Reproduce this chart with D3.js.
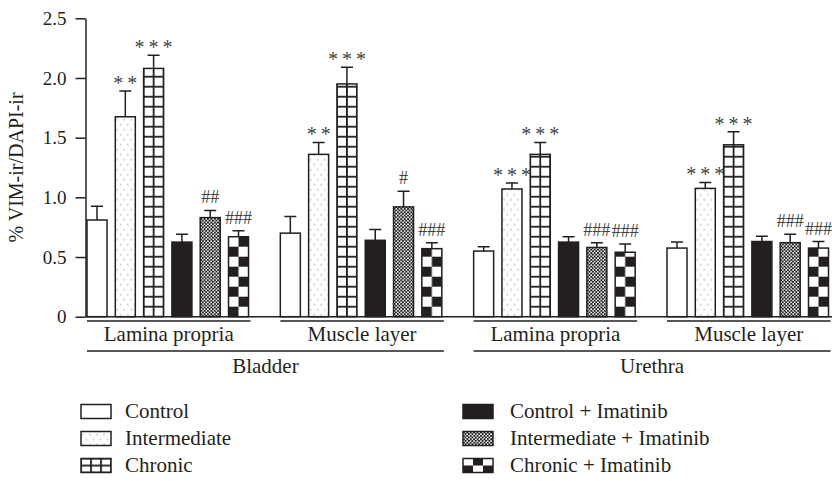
<!DOCTYPE html>
<html>
<head>
<meta charset="utf-8">
<script src="https://cdn.jsdelivr.net/npm/d3@7"></script>
<style>
  body { margin: 0; background: #fff; }
  svg { display: block; }
  text { font-family: "Liberation Serif", "Times New Roman", serif; fill: #231f20; }
</style>
</head>
<body>
<svg id="chart" width="832" height="481"></svg>
<script>
// Tissue regions (x-axis groups)
const groupKeys = ["bladderLP", "bladderML", "urethraLP", "urethraML"];
const groupLabels = ["Lamina propria", "Muscle layer", "Lamina propria", "Muscle layer"];
const regionLabels = ["Bladder", "Urethra"];
const regionGroups = [[0, 1], [2, 3]];

// Treatment series
const seriesNames = ["Control", "Intermediate", "Chronic",
  "Control + Imatinib", "Intermediate + Imatinib", "Chronic + Imatinib"];
const seriesKinds = ["open", "dots", "grid", "solid", "fine", "checker"];

// Mean % VIM-ir/DAPI-ir per region
const control        = [0.81, 0.70, 0.55, 0.575];
const intermediate   = [1.675, 1.36, 1.07, 1.075];
const chronic        = [2.08, 1.95, 1.36, 1.44];
const controlIm      = [0.625, 0.64, 0.625, 0.63];
const intermediateIm = [0.83, 0.92, 0.58, 0.62];
const chronicIm      = [0.67, 0.57, 0.54, 0.575];

// SEM (upper error bar length)
const controlErr        = [0.115, 0.14, 0.035, 0.05];
const intermediateErr   = [0.215, 0.10, 0.05, 0.05];
const chronicErr        = [0.11, 0.14, 0.10, 0.11];
const controlImErr      = [0.065, 0.09, 0.045, 0.045];
const intermediateImErr = [0.06, 0.13, 0.04, 0.07];
const chronicImErr      = [0.05, 0.05, 0.07, 0.055];

// Significance marks
const controlSig        = ["", "", "", ""];
const intermediateSig   = ["**", "**", "***", "***"];
const chronicSig        = ["***", "***", "***", "***"];
const controlImSig      = ["", "", "", ""];
const intermediateImSig = ["##", "#", "###", "###"];
const chronicImSig      = ["###", "###", "###", "###"];

const yTicks = [0, 0.5, 1.0, 1.5, 2.0, 2.5];
const yTickLabels = ["0", "0.5", "1.0", "1.5", "2.0", "2.5"];
const yTitle = "% VIM-ir/DAPI-ir";

const values = [control, intermediate, chronic, controlIm, intermediateIm, chronicIm];
const errors = [controlErr, intermediateErr, chronicErr, controlImErr, intermediateImErr, chronicImErr];
const sigs = [controlSig, intermediateSig, chronicSig, controlImSig, intermediateImSig, chronicImSig];

const dark = "#231f20";
const serif = '"Liberation Serif", "Times New Roman", serif';
const svg = d3.select("#chart");
svg.append("rect").attr("width", 832).attr("height", 481).attr("fill", "#fff");
const defs = svg.append("defs");

const y = d3.scaleLinear().domain([0, 2.5]).range([316.7, 18.3]);
const x0 = d3.scaleBand().domain(groupKeys).range([87, 828.5]).paddingInner(0.1645).paddingOuter(0);
const x1 = d3.scaleBand().domain(d3.range(seriesNames.length)).range([0, x0.bandwidth()])
  .paddingInner(0.293).paddingOuter(0);

// Pattern fills anchored at a mark's own origin
function fillFor(kind, id, ox, oy, cw, ch) {
  if (kind === "open") return "#fff";
  if (kind === "solid") return dark;
  const p = defs.append("pattern").attr("id", id).attr("patternUnits", "userSpaceOnUse");
  if (kind === "dots") {
    p.attr("x", ox).attr("y", oy).attr("width", 7).attr("height", 10);
    p.append("rect").attr("width", 7).attr("height", 10).attr("fill", "#fff");
    p.append("circle").attr("cx", 2).attr("cy", 3).attr("r", 0.7).attr("fill", "#9a9a9a");
    p.append("circle").attr("cx", 5.5).attr("cy", 8).attr("r", 0.7).attr("fill", "#9a9a9a");
  } else if (kind === "grid") {
    p.attr("x", ox - 0.9).attr("y", oy - 0.9).attr("width", cw).attr("height", ch);
    p.append("rect").attr("width", cw).attr("height", ch).attr("fill", "#fff");
    p.append("rect").attr("width", 1.8).attr("height", ch).attr("fill", dark);
    p.append("rect").attr("width", cw).attr("height", 1.8).attr("fill", dark);
  } else if (kind === "fine") {
    p.attr("x", ox).attr("y", oy).attr("width", 3.4).attr("height", 3.4);
    p.append("rect").attr("width", 3.4).attr("height", 3.4).attr("fill", "#fff");
    p.append("rect").attr("width", 2).attr("height", 2).attr("fill", dark);
    p.append("rect").attr("x", 1.7).attr("y", 1.7).attr("width", 1.7).attr("height", 1.7).attr("fill", dark);
  } else if (kind === "checker") {
    p.attr("x", ox).attr("y", oy).attr("width", 2 * cw).attr("height", 2 * ch);
    p.append("rect").attr("width", 2 * cw).attr("height", 2 * ch).attr("fill", "#fff");
    p.append("rect").attr("x", cw).attr("width", cw).attr("height", ch).attr("fill", dark);
    p.append("rect").attr("y", ch).attr("width", cw).attr("height", ch).attr("fill", dark);
  }
  return `url(#${id})`;
}

// Bars, error bars and significance marks
const bars = [];
groupKeys.forEach((g, gi) => {
  seriesNames.forEach((s, si) => {
    bars.push({ gi, si, g, v: values[si][gi], e: errors[si][gi], sig: sigs[si][gi] });
  });
});

const barG = svg.append("g");
const bw = x1.bandwidth();
bars.forEach((d, i) => {
  const bx = x0(d.g) + x1(d.si);
  const fill = fillFor(seriesKinds[d.si], "bar" + i, bx, y(0), bw / 2, 10);
  d.bx = bx;
  barG.append("rect")
    .attr("x", bx).attr("y", y(d.v))
    .attr("width", bw).attr("height", y(0) - y(d.v))
    .attr("fill", fill).attr("stroke", dark).attr("stroke-width", 1.5);
});

const errG = svg.append("g").attr("stroke", dark).attr("stroke-width", 1.5);
errG.selectAll("path").data(bars).join("path")
  .attr("fill", "none")
  .attr("d", d => {
    const cx = d.bx + bw / 2, top = y(d.v + d.e);
    return `M${cx},${y(d.v)}V${top}M${cx - 6},${top}H${cx + 6}`;
  });

// Asterisks are drawn with spaces between them, hashes packed together
svg.append("g").selectAll("text").data(bars.filter(d => d.sig)).join("text")
  .attr("x", d => d.bx + bw / 2)
  .attr("y", d => d.sig[0] === "*" ? y(d.v + d.e) - 1 : y(d.v + d.e) - 7)
  .attr("text-anchor", "middle")
  .attr("font-size", d => d.sig[0] === "*" ? 20 : 18)
  .style("fill", "#444")
  .text(d => d.sig[0] === "*" ? d.sig.split("").join("\u2009") : d.sig);

// Axes
const yAxis = d3.axisLeft(y).tickValues(yTicks).tickFormat((d, i) => yTickLabels[i])
  .tickSize(10).tickSizeOuter(0).tickPadding(9);
const ya = svg.append("g").attr("transform", "translate(85.5,0)").call(yAxis);
ya.attr("font-family", null).attr("font-size", null);
ya.select(".domain").attr("stroke", dark).attr("stroke-width", 1.5);
ya.selectAll(".tick line").attr("stroke", dark).attr("stroke-width", 1.5);
ya.selectAll(".tick text").style("font-family", serif).style("font-size", "19px").style("fill", dark);

svg.append("line").attr("x1", 85.5).attr("x2", 832).attr("y1", y(0)).attr("y2", y(0))
  .attr("stroke", dark).attr("stroke-width", 1.5);

svg.append("text")
  .attr("transform", `translate(23,${(88 + 247) / 2}) rotate(-90)`)
  .attr("text-anchor", "middle").attr("font-size", 20)
  .text(yTitle);

// Group underlines and labels
const lab = svg.append("g");
groupKeys.forEach((g, gi) => {
  const gx = x0(g);
  lab.append("line").attr("x1", gx).attr("x2", gx + x0.bandwidth() + 2)
    .attr("y1", 321).attr("y2", 321).attr("stroke", dark).attr("stroke-width", 1.5);
  lab.append("text").attr("x", gx + (x0.bandwidth() + 2) / 2).attr("y", 341)
    .attr("text-anchor", "middle").attr("font-size", 21).text(groupLabels[gi]);
});
regionLabels.forEach((r, ri) => {
  const [a, b] = regionGroups[ri];
  const xa = x0(groupKeys[a]), xb = x0(groupKeys[b]) + x0.bandwidth() + 2;
  lab.append("line").attr("x1", xa).attr("x2", xb).attr("y1", 351).attr("y2", 351)
    .attr("stroke", dark).attr("stroke-width", 1.5);
  lab.append("text").attr("x", (xa + xb) / 2).attr("y", 373)
    .attr("text-anchor", "middle").attr("font-size", 21).text(r);
});

// Legend
const legendCols = [{ boxX: 81, textX: 125 }, { boxX: 463, textX: 510 }];
const legendBaselines = [418, 445, 472];
seriesNames.forEach((s, si) => {
  const col = legendCols[Math.floor(si / 3)];
  const base = legendBaselines[si % 3];
  const by = base - 13.5;
  const fill = fillFor(seriesKinds[si], "leg" + si, col.boxX, by, 10, 7);
  svg.append("rect").attr("x", col.boxX).attr("y", by).attr("width", 30).attr("height", 14)
    .attr("fill", fill).attr("stroke", dark).attr("stroke-width", 1.5);
  svg.append("text").attr("x", col.textX).attr("y", base).attr("font-size", 21).text(s);
});
</script>
</body>
</html>
